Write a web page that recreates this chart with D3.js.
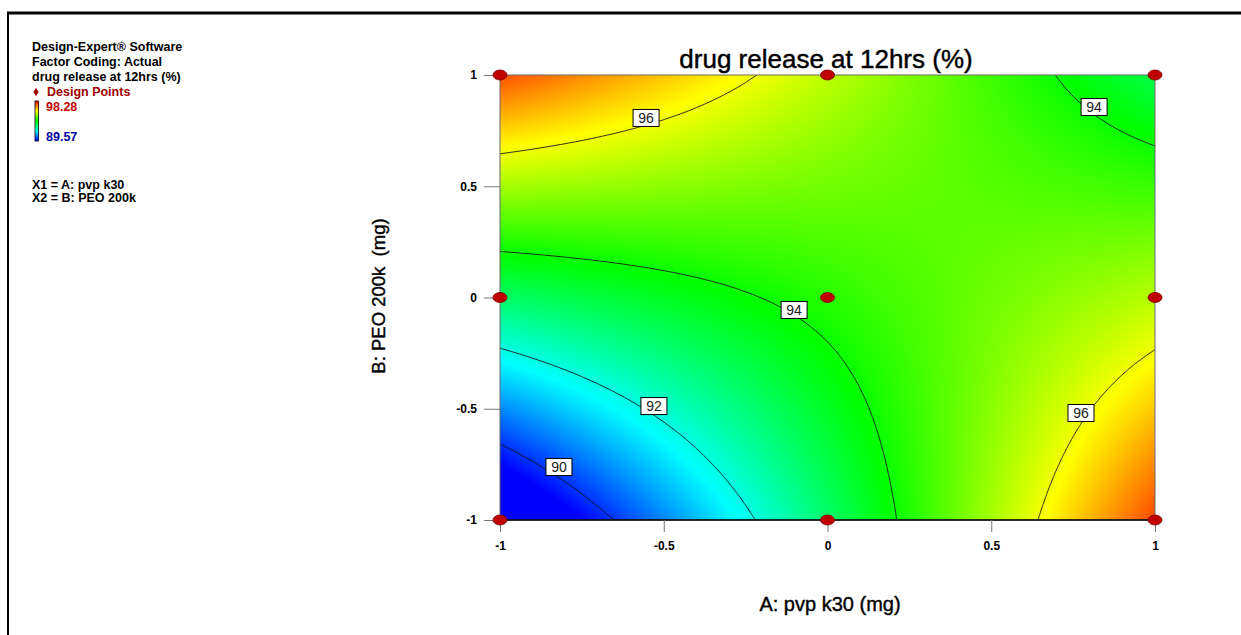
<!DOCTYPE html>
<html>
<head>
<meta charset="utf-8">
<script src="https://cdn.jsdelivr.net/npm/d3@7"></script>
<style>
  html, body { margin: 0; padding: 0; background: #fff; }
  svg { display: block; font-family: Arial, "Liberation Sans", sans-serif; }
  .pre { white-space: pre; }
</style>
</head>
<body>
<svg id="chart" width="1241" height="635"></svg>
<script>
// ---------------- data ----------------
const chartTitle = "drug release at 12hrs (%)";
const xAxisTitle = "A: pvp k30 (mg)";
const yAxisTitle = "B: PEO 200k  (mg)";
const infoLines = ["Design-Expert\u00AE Software", "Factor Coding: Actual", "drug release at 12hrs (%)"];
const factorLines = ["X1 = A: pvp k30", "X2 = B: PEO 200k"];
const legendMax = 98.28;
const legendMin = 89.57;

// coded factor levels and predicted response at those levels
const factorLevels = [-1, 0, 1];
// rows: B = -1, 0, 1 ; columns: A = -1, 0, 1
const responseAtBm1 = [88.40, 93.02, 97.66];
const responseAtB0  = [93.05, 94.25, 95.49];
const responseAtBp1 = [97.60, 95.54, 93.30];

// design points (coded)
const designA = [-1, 0, 1, -1, 0, 1, -1, 0, 1];
const designB = [-1, -1, -1, 0, 0, 0, 1, 1, 1];

const contourLevels = [90, 92, 94, 96];
// contour label anchors (value, A, B)
const labelValues = [96, 94, 92, 90, 96, 94];
const labelA = [-0.554, -0.102, -0.530, -0.820, 0.774, 0.814];
const labelB = [0.807, -0.056, -0.488, -0.762, -0.519, 0.856];

const tickValues = [-1, -0.5, 0, 0.5, 1];
const tickLabels = ["-1", "-0.5", "0", "0.5", "1"];

const rampColors = ["#0000ff", "#00ffff", "#00ff00", "#ffff00", "#ff0000"];

// ---------------- setup ----------------
const svg = d3.select("#chart");
const W = 1241, H = 635;
const plot = { left: 500, right: 1155, top: 75, bottom: 520 };

const x = d3.scaleLinear().domain([-1, 1]).range([plot.left, plot.right]);
const y = d3.scaleLinear().domain([-1, 1]).range([plot.bottom, plot.top]);

const grid = [responseAtBm1, responseAtB0, responseAtBp1];
function basis(t) { return [t * (t - 1) / 2, 1 - t * t, t * (t + 1) / 2]; }
function response(a, b) {
  const la = basis(a), lb = basis(b);
  let s = 0;
  for (let j = 0; j < 3; j++) for (let i = 0; i < 3; i++) s += lb[j] * la[i] * grid[j][i];
  return s;
}

const stops = rampColors.map((c, i) => legendMin + (legendMax - legendMin) * i / (rampColors.length - 1));
const color = d3.scaleLinear().domain(stops).range(rampColors).clamp(true);

// frame
svg.append("line").attr("x1", 7).attr("x2", W).attr("y1", 13).attr("y2", 13)
  .attr("stroke", "#000").attr("stroke-width", 3);
svg.append("line").attr("x1", 8).attr("x2", 8).attr("y1", 12).attr("y2", H)
  .attr("stroke", "#000").attr("stroke-width", 2);

// ---------------- heat map ----------------
const pw = plot.right - plot.left, ph = plot.bottom - plot.top;
const canvas = document.createElement("canvas");
canvas.width = pw; canvas.height = ph;
const ctx = canvas.getContext("2d");
const img = ctx.createImageData(pw, ph);
for (let py = 0; py < ph; py++) {
  const b = y.invert(plot.top + py + 0.5);
  for (let px = 0; px < pw; px++) {
    const a = x.invert(plot.left + px + 0.5);
    const c = d3.rgb(color(response(a, b)));
    const k = (py * pw + px) * 4;
    img.data[k] = c.r; img.data[k + 1] = c.g; img.data[k + 2] = c.b; img.data[k + 3] = 255;
  }
}
ctx.putImageData(img, 0, 0);
svg.append("image").attr("x", plot.left).attr("y", plot.top)
  .attr("width", pw).attr("height", ph)
  .attr("href", canvas.toDataURL());

// ---------------- contours ----------------
svg.append("clipPath").attr("id", "plotClip").append("rect")
  .attr("x", plot.left).attr("y", plot.top).attr("width", pw).attr("height", ph);

const ext = 1.05, step = 0.005;
const N = Math.round(2 * ext / step) + 1;
const vals = new Float64Array(N * N);
for (let j = 0; j < N; j++) {
  const b = ext - j * step;
  for (let i = 0; i < N; i++) vals[j * N + i] = response(-ext + i * step, b);
}
const contours = d3.contours().size([N, N]).thresholds(contourLevels)(vals);
const proj = d3.geoTransform({
  point: function (gx, gy) {
    this.stream.point(x(-ext + (gx - 0.5) * step), y(ext - (gy - 0.5) * step));
  }
});
const path = d3.geoPath(proj);
svg.append("g").attr("clip-path", "url(#plotClip)")
  .selectAll("path").data(contours).join("path")
  .attr("d", path).attr("fill", "none")
  .attr("stroke", "#111").attr("stroke-width", 0.9);

// ---------------- plot border and axes ----------------
svg.append("rect").attr("x", plot.left).attr("y", plot.top).attr("width", pw).attr("height", ph)
  .attr("fill", "none").attr("stroke", "#6b6b6b").attr("stroke-width", 1);
svg.append("line").attr("x1", plot.left).attr("x2", plot.right).attr("y1", plot.bottom).attr("y2", plot.bottom)
  .attr("stroke", "#000").attr("stroke-width", 1.5);

const xAxis = d3.axisBottom(x).tickValues(tickValues).tickFormat((d, i) => tickLabels[i])
  .tickSize(12).tickPadding(9);
const gx = svg.append("g").attr("transform", `translate(0,${plot.bottom})`).call(xAxis);
gx.select(".domain").remove();
gx.selectAll(".tick line").attr("stroke", "#777");
gx.selectAll(".tick text").attr("font-size", 12).attr("font-weight", "bold")
  .attr("font-family", "Arial, 'Liberation Sans', sans-serif").attr("fill", "#000");

const yAxis = d3.axisLeft(y).tickValues(tickValues).tickFormat((d, i) => tickLabels[i])
  .tickSize(16).tickPadding(7);
const gy = svg.append("g").attr("transform", `translate(${plot.left},0)`).call(yAxis);
gy.select(".domain").remove();
gy.selectAll(".tick line").attr("stroke", "#777");
gy.selectAll(".tick text").attr("font-size", 12).attr("font-weight", "bold")
  .attr("font-family", "Arial, 'Liberation Sans', sans-serif").attr("fill", "#000");

// contour labels
const lab = svg.append("g");
labelValues.forEach((v, i) => {
  const cx = x(labelA[i]), cy = y(labelB[i]);
  lab.append("rect").attr("x", cx - 13).attr("y", cy - 8.5).attr("width", 26).attr("height", 17)
    .attr("fill", "#fff").attr("stroke", "#000").attr("stroke-width", 1);
  lab.append("text").attr("x", cx).attr("y", cy + 5).attr("text-anchor", "middle")
    .attr("font-size", 14).attr("fill", "#222").text(v);
});

// design points
svg.append("g").selectAll("ellipse").data(designA.map((a, i) => [a, designB[i]])).join("ellipse")
  .attr("cx", d => x(d[0])).attr("cy", d => y(d[1]))
  .attr("rx", 7).attr("ry", 5)
  .attr("fill", "#c00000").attr("stroke", "#7a0000").attr("stroke-width", 0.8);

// titles
svg.append("text").attr("x", 826).attr("y", 68).attr("text-anchor", "middle")
  .attr("font-size", 26).attr("fill", "#000").attr("stroke", "#000").attr("stroke-width", 0.45)
  .text(chartTitle);
svg.append("text").attr("x", 830).attr("y", 611).attr("text-anchor", "middle")
  .attr("font-size", 20).attr("fill", "#000").attr("stroke", "#000").attr("stroke-width", 0.4)
  .text(xAxisTitle);
svg.append("text").attr("class", "pre").attr("transform", "translate(385,296) rotate(-90)").attr("text-anchor", "middle")
  .attr("font-size", 18.5).attr("fill", "#000").attr("stroke", "#000").attr("stroke-width", 0.4)
  .text(yAxisTitle);

// ---------------- left info panel ----------------
const info = svg.append("g").attr("font-size", 12.5).attr("font-weight", "bold");
const infoBase = [51, 66, 81];
infoLines.forEach((t, i) => info.append("text").attr("x", 32).attr("y", infoBase[i]).attr("fill", "#000").text(t));
info.append("path").attr("d", d3.symbol(d3.symbolDiamond, 22)()).attr("transform", "translate(36,92)")
  .attr("fill", "#a00000");
info.append("text").attr("x", 47).attr("y", 96).attr("fill", "#a00000").text("Design Points");

const defs = svg.append("defs");
const grad = defs.append("linearGradient").attr("id", "ramp").attr("x1", 0).attr("x2", 0).attr("y1", 1).attr("y2", 0);
rampColors.forEach((c, i) => grad.append("stop").attr("offset", i / (rampColors.length - 1)).attr("stop-color", c));
info.append("rect").attr("x", 35).attr("y", 101).attr("width", 3.5).attr("height", 40)
  .attr("fill", "url(#ramp)").attr("stroke", "#000").attr("stroke-width", 0.8);
info.append("text").attr("x", 46).attr("y", 111).attr("fill", "#c00000").text(legendMax.toFixed(2));
info.append("text").attr("x", 46).attr("y", 141).attr("fill", "#0000a0").text(legendMin.toFixed(2));
const fBase = [189, 202];
factorLines.forEach((t, i) => info.append("text").attr("x", 32).attr("y", fBase[i]).attr("fill", "#000").text(t));
</script>
</body>
</html>
